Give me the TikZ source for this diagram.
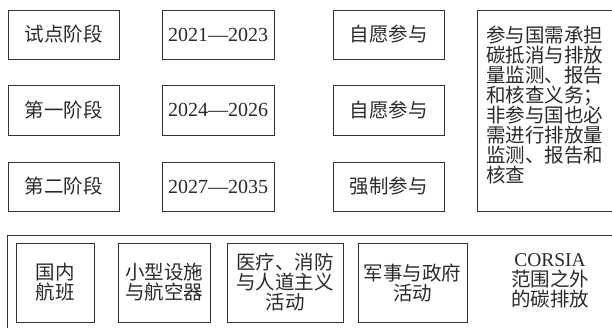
\documentclass[tikz,border=0pt]{standalone}
\usepackage{fontspec}
\setmainfont{Liberation Serif}
\newfontfamily\cjk{Noto Sans CJK SC}
\definecolor{linegray}{HTML}{333333}
\definecolor{textgray}{HTML}{2A2A2A}
\tikzset{
  box/.style={draw=linegray, line width=0.9pt, inner sep=0pt, align=center, text=textgray},
  cjktext/.style={font=\cjk\fontsize{19.5}{20}\selectfont},
  numtext/.style={font=\fontsize{20}{20}\selectfont},
  freetext/.style={inner sep=0pt, text=textgray}
}
\begin{document}
\begin{tikzpicture}[x=1pt,y=-1pt]
\clip (0,0) rectangle (612,327);
\fill[white] (0,0) rectangle (612,327);
% top rows
\node[box, cjktext, minimum width=111pt, minimum height=49pt] (p1) at (63.5,34.5) {试点阶段};
\node[box, cjktext, minimum width=111pt, minimum height=50pt] (p2) at (63.5,110) {第一阶段};
\node[box, cjktext, minimum width=111pt, minimum height=49pt] (p3) at (63.5,186.5) {第二阶段};
\node[box, numtext, minimum width=112pt, minimum height=49pt] (y1) at (218,34.5) {2021—2023};
\node[box, numtext, minimum width=112pt, minimum height=50pt] (y2) at (218,110) {2024—2026};
\node[box, numtext, minimum width=112pt, minimum height=49pt] (y3) at (218,186.5) {2027—2035};
\node[box, cjktext, minimum width=111pt, minimum height=49pt] (m1) at (388.5,34.5) {自愿参与};
\node[box, cjktext, minimum width=111pt, minimum height=50pt] (m2) at (388.5,110) {自愿参与};
\node[box, cjktext, minimum width=111pt, minimum height=49pt] (m3) at (388.5,186.5) {强制参与};
\node[box, minimum width=143pt, minimum height=201pt] (dut) at (548.5,110.5) {};
\node[freetext, cjktext, align=left, anchor=north west] (duttext) at (486,26)
  {参与国需承担\\碳抵消与排放\\量监测、报告\\和核查义务；\\非参与国也必\\需进行排放量\\监测、报告和\\核查};
% bottom
\node[box, minimum width=613pt, minimum height=100pt] (outer) at (313.5,285) {};
\node[box, cjktext, minimum width=78pt, minimum height=79pt] (b1) at (55,282.5) {国内\\航班};
\node[box, cjktext, minimum width=92pt, minimum height=79pt] (b2) at (164,282.5) {小型设施\\与航空器};
\node[box, cjktext, minimum width=116pt, minimum height=79pt] (b3) at (285,282.5) {医疗、消防\\与人道主义\\活动};
\node[box, cjktext, minimum width=109pt, minimum height=79pt] (b4) at (412.5,282.5) {军事与政府\\活动};
\node[freetext, align=center, font=\fontsize{19.5}{20}\selectfont] (corsia) at (550,281)
  {CORSIA\\{\cjk 范围之外}\\{\cjk 的碳排放}};
\end{tikzpicture}
\end{document}
